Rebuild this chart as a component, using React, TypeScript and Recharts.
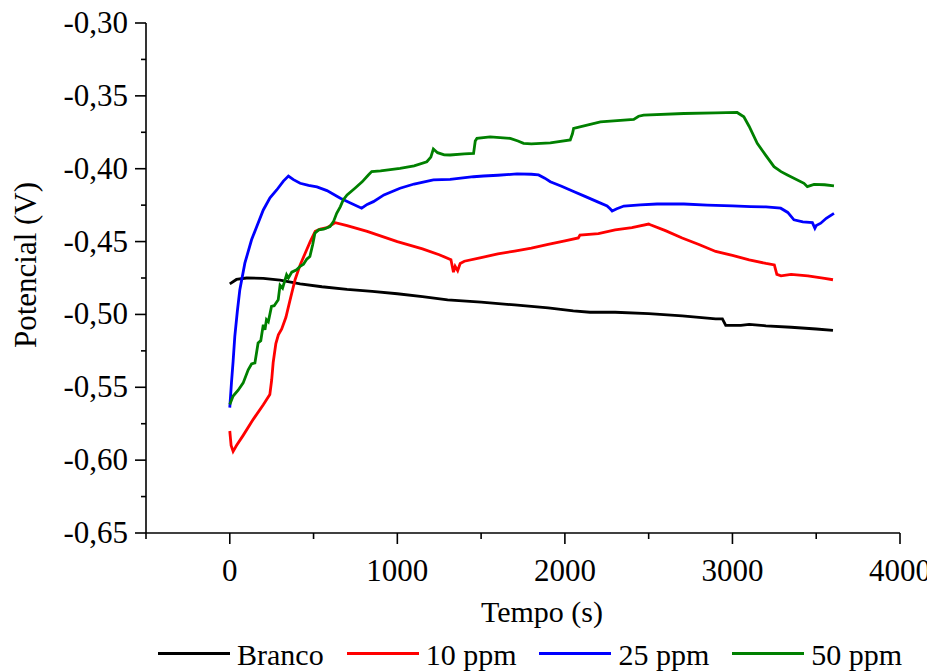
import React from "react";
import { Legend, Line, LineChart, XAxis, YAxis } from "recharts";

// [tempo (s), potencial (V)]
const BRANCO: [number, number][] = [
  [0, -0.479], [40, -0.476], [100, -0.475], [200, -0.4752], [300, -0.4765], [420, -0.479],
  [550, -0.481], [700, -0.4828], [850, -0.4842], [1000, -0.4858], [1150, -0.4878],
  [1300, -0.49], [1500, -0.4915], [1700, -0.4935], [1900, -0.4955], [2050, -0.4975],
  [2150, -0.4985], [2300, -0.4985], [2500, -0.4995], [2700, -0.501], [2900, -0.503],
  [2940, -0.503], [2960, -0.5075], [3050, -0.5075], [3100, -0.5068], [3200, -0.5078],
  [3350, -0.5088], [3500, -0.51], [3600, -0.511],
];

const PPM10: [number, number][] = [
  [0, -0.58], [8, -0.59], [20, -0.594], [40, -0.59], [80, -0.583], [140, -0.572],
  [200, -0.562], [239, -0.555], [250, -0.545], [259, -0.533], [275, -0.52], [290, -0.514],
  [310, -0.51], [335, -0.502], [360, -0.49], [390, -0.476], [420, -0.466], [450, -0.458],
  [480, -0.45], [510, -0.443], [540, -0.4415], [580, -0.4405], [630, -0.437], [700, -0.439],
  [820, -0.443], [1000, -0.45], [1150, -0.455], [1250, -0.459], [1320, -0.4625],
  [1335, -0.471], [1345, -0.467], [1360, -0.47], [1375, -0.465], [1400, -0.4635],
  [1500, -0.461], [1600, -0.4585], [1700, -0.4565], [1800, -0.4545], [1900, -0.452],
  [2000, -0.4495], [2080, -0.4475], [2090, -0.4455], [2200, -0.4445], [2300, -0.442],
  [2400, -0.4405], [2500, -0.438], [2510, -0.4385], [2600, -0.4425], [2700, -0.4475],
  [2800, -0.452], [2900, -0.4568], [3000, -0.4595], [3100, -0.4625], [3200, -0.465],
  [3250, -0.466], [3265, -0.4725], [3290, -0.4735], [3350, -0.4725], [3450, -0.4735],
  [3550, -0.4752], [3600, -0.4762],
];

const PPM25: [number, number][] = [
  [0, -0.564], [10, -0.547], [20, -0.532], [30, -0.515], [45, -0.498], [60, -0.483],
  [90, -0.4648], [130, -0.4488], [160, -0.44], [200, -0.4283], [240, -0.42], [280, -0.4146],
  [320, -0.4085], [350, -0.405], [380, -0.4075], [420, -0.41], [470, -0.4115], [520, -0.4125],
  [580, -0.415], [660, -0.4203], [720, -0.4235], [787, -0.4271], [820, -0.4245],
  [857, -0.4226], [920, -0.418], [1016, -0.4134], [1100, -0.4105], [1215, -0.4077],
  [1315, -0.4073], [1455, -0.4055], [1514, -0.405], [1600, -0.4045], [1714, -0.4036],
  [1800, -0.4038], [1843, -0.4043], [1880, -0.4065], [1913, -0.4089], [1980, -0.412],
  [2052, -0.4157], [2120, -0.419], [2192, -0.4226], [2252, -0.4255], [2270, -0.4275],
  [2282, -0.429], [2310, -0.4275], [2352, -0.4256], [2450, -0.4248], [2550, -0.4242],
  [2710, -0.4242], [2850, -0.425], [3000, -0.4255], [3108, -0.426], [3200, -0.4262],
  [3288, -0.4271], [3330, -0.43], [3367, -0.4351], [3420, -0.4365], [3477, -0.437],
  [3492, -0.4408], [3500, -0.439], [3527, -0.4374], [3560, -0.434], [3606, -0.4306],
];

const PPM50: [number, number][] = [
  [0, -0.5618], [20, -0.556], [50, -0.552], [80, -0.547], [110, -0.538], [130, -0.534],
  [150, -0.5333], [169, -0.5196], [185, -0.518], [200, -0.507], [210, -0.5105],
  [219, -0.5036], [230, -0.505], [249, -0.4945], [265, -0.494], [289, -0.49], [300, -0.48],
  [315, -0.482], [339, -0.4728], [350, -0.475], [370, -0.471], [399, -0.4694], [420, -0.467],
  [440, -0.4655], [460, -0.462], [478, -0.4603], [495, -0.452], [508, -0.4443], [530, -0.442],
  [560, -0.4415], [598, -0.4397], [620, -0.436], [638, -0.4306], [660, -0.426], [677, -0.4214],
  [700, -0.418], [747, -0.4134], [790, -0.409], [827, -0.4043], [847, -0.402], [900, -0.4015],
  [1016, -0.3997], [1100, -0.398], [1176, -0.3952], [1200, -0.392], [1215, -0.3865],
  [1240, -0.389], [1280, -0.3905], [1315, -0.3906], [1400, -0.3898], [1455, -0.3895],
  [1465, -0.381], [1475, -0.3792], [1554, -0.3781], [1674, -0.3792], [1720, -0.381],
  [1753, -0.3826], [1800, -0.383], [1913, -0.3822], [2032, -0.3803], [2045, -0.376],
  [2052, -0.3724], [2212, -0.3678], [2411, -0.3662], [2440, -0.364], [2470, -0.3632],
  [2710, -0.3621], [2900, -0.3617], [3028, -0.3614], [3068, -0.3644], [3100, -0.371],
  [3148, -0.3826], [3200, -0.391], [3248, -0.3986], [3290, -0.402], [3328, -0.4043],
  [3427, -0.41], [3447, -0.4123], [3487, -0.4107], [3550, -0.411], [3606, -0.4118],
];

const X_TICKS = [-500, 0, 500, 1000, 1500, 2000, 2500, 3000, 3500, 4000];
const Y_TICKS = [
  -0.65, -0.625, -0.6, -0.575, -0.55, -0.525, -0.5, -0.475, -0.45, -0.425, -0.4, -0.375, -0.35, -0.325, -0.3,
];

const SERIES = [
  { name: "Branco", points: BRANCO, color: "#000000" },
  { name: "10 ppm", points: PPM10, color: "#ff0000" },
  { name: "25 ppm", points: PPM25, color: "#0000ff" },
  { name: "50 ppm", points: PPM50, color: "#008000" },
];

const SERIF = "Liberation Serif";

const isMajorY = (v: number) => {
  const h = v * 100;
  return Math.abs(h - Math.round(h)) < 1e-6 && Math.round(h) % 5 === 0;
};

const renderXTick = (props: any) => {
  const { x, y, payload } = props;
  const v = payload.value as number;
  const major = v >= 0 && v % 1000 === 0;
  return (
    <g key={`xt-${v}`}>
      <line x1={x} x2={x} y1={y} y2={y + (major ? 11 : 6)} stroke="#000" strokeWidth={1.6} />
      {major && (
        <text x={x} y={y + 48} textAnchor="middle" fontFamily={SERIF} fontSize={31} fill="#000">
          {String(v)}
        </text>
      )}
    </g>
  );
};

const renderYTick = (props: any) => {
  const { x, y, payload } = props;
  const v = payload.value as number;
  const major = isMajorY(v);
  return (
    <g key={`yt-${v}`}>
      <line x1={x - (major ? 11 : 5)} x2={x} y1={y} y2={y} stroke="#000" strokeWidth={1.6} />
      {major && (
        <text x={x - 18} y={y + 10} textAnchor="end" fontFamily={SERIF} fontSize={31} fill="#000">
          {v.toFixed(2).replace(".", ",")}
        </text>
      )}
    </g>
  );
};

const renderLegend = () => (
  <div style={{ display: "flex", paddingLeft: 150, fontFamily: SERIF, fontSize: 30, lineHeight: "30px", color: "#000" }}>
    {SERIES.map((s) => (
      <div key={s.name} style={{ display: "flex", alignItems: "flex-start", marginRight: 23 }}>
        <div style={{ width: 72, height: 2.8, background: s.color, marginTop: 12, marginRight: 7 }} />
        <span>{s.name}</span>
      </div>
    ))}
  </div>
);

export default function App() {
  return (
    <div style={{ width: 927, height: 663, fontFamily: SERIF }}>
      <LineChart width={927} height={663} margin={{ top: 15, right: 35, left: 0, bottom: 0 }} style={{ fontFamily: SERIF }}>
        <XAxis
          dataKey="t"
          type="number"
          domain={[-500, 4000]}
          ticks={X_TICKS}
          interval={0}
          tick={renderXTick}
          tickLine={false}
          tickSize={0}
          tickMargin={0}
          axisLine={{ stroke: "#000", strokeWidth: 1.6 }}
          height={138}
          label={{
            content: (p: any) => {
              const vb = p.viewBox || { x: 138, y: 525, width: 754 };
              return (
                <text x={vb.x + vb.width / 2 + 19} y={vb.y + 89} textAnchor="middle" fontFamily={SERIF} fontSize={30} fill="#000">
                  Tempo (s)
                </text>
              );
            },
          }}
        />
        <YAxis
          type="number"
          domain={[-0.65, -0.3]}
          ticks={Y_TICKS}
          interval={0}
          tick={renderYTick}
          tickLine={false}
          tickSize={0}
          tickMargin={0}
          axisLine={{ stroke: "#000", strokeWidth: 1.6 }}
          width={138}
          label={{
            content: (p: any) => {
              const vb = p.viewBox || { x: 0, y: 15, height: 510 };
              const cx = vb.x + 28;
              const cy = vb.y + vb.height / 2 - 13;
              return (
                <text x={cx} y={cy} transform={`rotate(-90, ${cx}, ${cy})`} textAnchor="middle" fontFamily={SERIF} fontSize={31} fill="#000">
                  Potencial (V)
                </text>
              );
            },
          }}
        />
        <Legend
          layout="horizontal"
          verticalAlign="middle"
          align="center"
          content={renderLegend}
          wrapperStyle={{ top: 632, left: 0, width: 927 }}
        />
        {SERIES.map((s) => (
          <Line
            key={s.name}
            name={s.name}
            data={s.points.map(([t, v]) => ({ t, v }))}
            dataKey="v"
            type="linear"
            stroke={s.color}
            strokeWidth={2.8}
            dot={false}
            activeDot={false}
            isAnimationActive={false}
          />
        ))}
      </LineChart>
    </div>
  );
}
